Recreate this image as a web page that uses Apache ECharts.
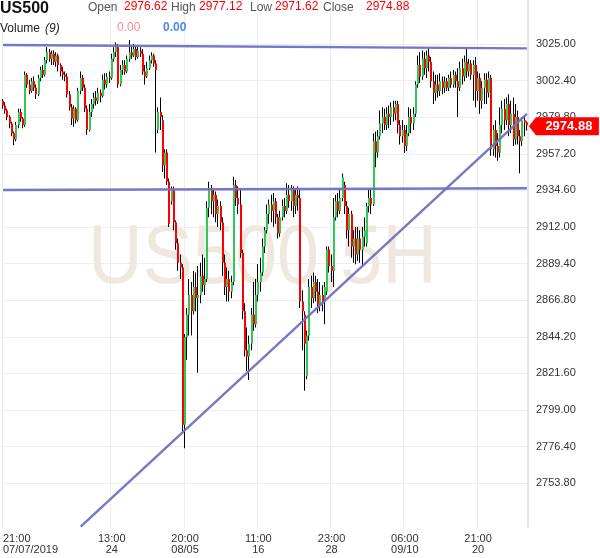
<!DOCTYPE html>
<html><head><meta charset="utf-8">
<script src="https://cdn.jsdelivr.net/npm/echarts@6/dist/echarts.min.js"></script>
<style>html,body{margin:0;padding:0;background:#fff}#c{width:600px;height:558px}</style>
</head><body><div id="c"></div>
<script>
const opens = [
2990,2987,2984,2980,2976,2970,2966,2975,2983,2979,
2975,3006,3000,2996,3002,2998,2994,3004,3009,3006,
3015,3020,3016,3019,3014,3018,3012,3008,3006,3005,
2994,2986,2979,2985,2978,2996,3004,2998,2985,2972,
2983,2988,2992,2990,2995,2993,3003,3000,3005,3004,
3016,3020,3023,3000,3009,3012,3008,3016,3020,3018,
3022,3017,3021,3019,3008,3005,3010,3015,3018,3013,
2972,2983,2978,2950,2958,2940,2928,2935,2915,2902,
2890,2887,2790,2844,2858,2870,2860,2875,2868,2870,
2882,2876,2880,2924,2935,2928,2932,2920,2925,2915,
2890,2875,2880,2872,2878,2938,2930,2926,2896,2860,
2836,2832,2840,2858,2852,2870,2878,2884,2900,2910,
2920,2926,2922,2928,2918,2908,2918,2925,2922,2932,
2928,2935,2925,2932,2930,2866,2858,2820,2845,2875,
2868,2878,2872,2864,2870,2866,2872,2898,2888,2885,
2918,2928,2922,2930,2938,2925,2910,2920,2900,2905,
2895,2905,2898,2906,2902,2925,2930,2926,2965,2958,
2968,2976,2980,2975,2982,2980,2986,2982,2988,2975,
2968,2972,2962,2970,2980,2976,2982,3000,3012,3005,
3016,3010,3018,3014,3002,2995,3000,2996,3002,2998,
3002,2998,3004,3000,3006,3002,2998,3010,3005,3014,
3008,3013,3006,3012,2996,3004,2990,2998,3003,2995,
3004,2960,2972,2962,2958,2975,2985,2978,2988,2975,
2982,2966,2980,2968,2965,2978,2976.62];
const closes = [
2987,2984,2980,2976,2970,2966,2975,2983,2979,2975,
3006,3000,2996,3002,2998,2994,3004,3009,3006,3015,
3020,3016,3019,3014,3018,3012,3008,3006,3005,2994,
2986,2979,2985,2978,2996,3004,2998,2985,2972,2983,
2988,2992,2990,2995,2993,3003,3000,3005,3004,3016,
3020,3023,3000,3009,3012,3008,3016,3020,3018,3022,
3017,3021,3019,3008,3005,3010,3015,3018,3013,3009,
2983,2980,2950,2958,2940,2914,2935,2915,2902,2890,
2887,2790,2844,2858,2870,2860,2875,2868,2870,2882,
2876,2880,2924,2935,2928,2932,2920,2925,2915,2890,
2875,2880,2872,2878,2938,2930,2926,2896,2860,2836,
2832,2840,2858,2852,2870,2878,2884,2900,2910,2920,
2926,2922,2928,2918,2908,2918,2925,2922,2932,2928,
2935,2925,2932,2930,2866,2860,2840,2845,2875,2868,
2878,2872,2864,2870,2866,2875,2898,2888,2885,2918,
2928,2922,2930,2943,2925,2910,2920,2900,2905,2895,
2905,2898,2906,2910,2925,2930,2926,2965,2958,2968,
2976,2980,2975,2982,2980,2986,2982,2988,2975,2968,
2972,2962,2970,2980,2976,2982,3000,3012,3005,3016,
3010,3018,3014,3002,2995,3000,2996,3002,2998,3002,
2998,3004,3000,3006,3002,2998,3010,3005,3014,3008,
3013,3006,3012,2996,3004,2990,2998,3003,2995,3004,
2960,2972,2962,2958,2975,2985,2978,2988,2975,2982,
2966,2980,2968,2965,2978,2976.6,2974.88];
const lows = [
2985,2982,2978,2973,2968,2962.5,2965,2973,2977,2973,
2974,2998,2994,2995,2996,2991,2993,3002,3004,3005,
3013,3014,3012,3012,3011,3008,3005,3003,3002,2992,
2984,2975,2974,2976,2977,2994,2996,2983,2969,2971,
2980,2985,2987,2988,2989,2992,2997,2998,3001,3003,
3014,3017,2998,2999,3006,3006,3007,3014,3016,3017,
3015,3016,3017,3006,3000,3004,3009,3013,3011,2958,
2970,2972,2946,2942,2938,2912,2926,2910,2898,2885,
2880,2785,2775.5,2830,2845,2845,2858,2860,2822,2865,
2872,2870,2878,2918,2920,2918,2915,2912,2910,2882,
2870,2866,2866,2868,2876,2925,2920,2893,2855,2832,
2823,2817.5,2836,2848,2850,2866,2872,2882,2896,2908,
2914,2915,2912,2914,2905,2906,2916,2918,2920,2924,
2922,2918,2920,2922,2862,2836,2811,2818,2842,2862,
2865,2866,2859,2860,2860,2852,2870,2884,2878,2875,
2916,2918,2920,2928,2920,2905,2900,2893,2890,2889,
2891,2890,2888,2900,2900,2921,2920,2925,2949,2955,
2966,2970,2972,2972,2973,2975,2977,2978,2970,2963,
2964,2957.8,2959,2968,2970,2972,2980,2998,3001,3003,
3006,3004,3008,2998,2988,2990,2992,2993,2994,2995,
2996,2996,2998,2998,2998,2980,2996,3000,3002,3004,
3005,3003,2990,2986,2990,2982,2985,2988,2988,2992,
2956,2956,2955,2953,2955,2970,2972,2975,2968,2970,
2962,2963,2963,2945.3,2962,2968,2971.62];
const highs = [
2991,2989,2985,2981,2977,2971,2977,2985,2985,2980,
3008,3007,3003,3004,3005,3000,3006,3011,3012,3017,
3023,3022,3021,3021,3020,3019,3013,3011,3008,3007,
2996,2988,2987,2986,2998,3008,3006,3000,2987,2988,
2991,2995,2996,2998,2997,3006,3007,3007,3008,3019,
3023,3026,3025,3012,3015,3015,3018,3027.5,3024,3025,
3024,3024,3023,3022,3012,3014,3018,3020,3019,3015,
2986,2992,2981,2960,2960,2942,2937,2937,2916,2905,
2895,2889,2846,2862,2880,2878,2885,2884,2888,2890,
2895,2893,2928,2940,2938,2935,2934,2929,2928,2918,
2895,2887,2885,2882,2943,2941,2937,2935,2898,2865,
2850,2845,2862,2878,2880,2889,2893,2905,2912,2926,
2929,2932,2933,2930,2920,2922,2929,2930,2939,2938,
2938,2937,2936,2937,2935,2873,2860,2848,2880,2882,
2884,2882,2880,2878,2876,2878,2900,2900,2895,2930,
2932,2933,2936,2945,2940,2928,2924,2922,2910,2912,
2912,2910,2912,2918,2927,2935,2936,2970,2971,2972,
2984,2986,2985,2986,2987,2989,2990,2990,2990,2978,
2978,2975,2975,2986,2985,2986,3002,3018,3020,3021,
3020,3021,3023,3017,3008,3006,3006,3007,3005,3005,
3004,3006,3008,3009,3008,3010,3014,3016,3018,3023,
3016,3015,3015,3017,3008,3007,3002,3007,3007,3008,
3006,2975,2978,2970,2986,2990,2991,2992,2994,2990,
2992,2988,2984,2972,2980,2980,2977.12];

const tickIndex = [0, 49, 82, 115, 148, 181, 214];
const tickText = ['21:00\n07/07/2019', '13:00\n24', '20:00\n08/05', '11:00\n16', '23:00\n28', '06:00\n09/10', '21:00\n20'];
const yTicks = [2753.8, 2776.4, 2799.0, 2821.6, 2844.2, 2866.8, 2889.4, 2912.0, 2934.6, 2957.2, 2979.8, 3002.4, 3025.0];
const resistanceLine = [[0, 3024.4], [236, 3022.3]];
const supportLine = [[0, 2934.9], [236, 2936.0]];
const trendLine = [[35, 2727.0], [236, 2981.9]];
const lastPrice = 2974.88;

const FONT = '"Liberation Sans", Arial, sans-serif';
const cats = opens.map((_, i) => String(i));
const rows = opens.map((o, i) => [i, o, closes[i], lows[i], highs[i]]);
const isTick = (i) => tickIndex.indexOf(i) >= 0;

function renderItem(params, api) {
  const i = api.value(0), o = api.value(1), c = api.value(2), l = api.value(3), h = api.value(4);
  const pH = api.coord([i, h]), pL = api.coord([i, l]), pO = api.coord([i, o]), pC = api.coord([i, c]);
  const x = Math.round(pH[0]);
  const y1 = Math.min(pO[1], pC[1]), y2 = Math.max(pO[1], pC[1]);
  return {
    type: 'group',
    children: [
      { type: 'rect', shape: { x: x - 1, y: pH[1], width: 1, height: Math.max(1, pL[1] - pH[1]) }, style: { fill: '#000' } },
      { type: 'rect', shape: { x: x - 1, y: y1, width: 2, height: Math.max(1, y2 - y1) }, style: { fill: c >= o ? '#2fc859' : '#ff0000' } }
    ]
  };
}

const lineStyle = { color: '#7070c2', width: 2.4, type: 'solid', opacity: 0.95 };
const seg = (pts) => [{ coord: pts[0], lineStyle }, { coord: pts[1] }];

const chart = echarts.init(document.getElementById('c'), null, { renderer: 'canvas' });
chart.setOption({
  animation: false,
  backgroundColor: '#fff',
  grid: { left: 0, right: 72, top: 0, bottom: 31, containLabel: false },
  xAxis: {
    type: 'category', data: cats, boundaryGap: true,
    axisLine: { show: false },
    axisTick: { show: false, interval: (i) => isTick(i) },
    axisLabel: {
      interval: (i) => isTick(i),
      formatter: (v, i) => tickText[tickIndex.indexOf(Number(v))] || '',
      color: '#333', fontSize: 11, lineHeight: 11, margin: 6, fontFamily: FONT,
      alignMinLabel: 'left'
    },
    splitLine: { show: true, interval: (i) => isTick(i), lineStyle: { color: '#eeeeee' } }
  },
  yAxis: {
    type: 'value', position: 'right', min: 2726.8, max: 3052.2, scale: true,
    axisLine: { show: true, lineStyle: { color: '#e4e4e4', width: 2, type: [2, 2] } },
    axisTick: { show: false, customValues: yTicks },
    axisLabel: { customValues: yTicks, formatter: (v) => v.toFixed(2), color: '#333', fontSize: 11, margin: 8, fontFamily: FONT },
    splitLine: { show: true, lineStyle: { color: '#eeeeee' } }
  },
  graphic: [
    { type: 'text', x: 88, y: 260, scaleX: 0.9, z: 1, silent: true,
      style: { text: 'US500,5H', font: '84px ' + FONT, fill: '#efe8de', verticalAlign: 'middle' } },
    { type: 'text', x: 0, y: 9, z: 100, style: { text: 'US500', font: 'bold 16px ' + FONT, fill: '#111', verticalAlign: 'middle' } },
    { type: 'text', x: 88, y: 8, z: 100, style: { text: 'Open', font: '12px ' + FONT, fill: '#555', verticalAlign: 'middle' } },
    { type: 'text', x: 124, y: 7, z: 100, style: { text: '2976.62', font: '12px ' + FONT, fill: '#ff0000', verticalAlign: 'middle' } },
    { type: 'text', x: 171, y: 8, z: 100, style: { text: 'High', font: '12px ' + FONT, fill: '#555', verticalAlign: 'middle' } },
    { type: 'text', x: 199, y: 7, z: 100, style: { text: '2977.12', font: '12px ' + FONT, fill: '#ff0000', verticalAlign: 'middle' } },
    { type: 'text', x: 250, y: 8, z: 100, style: { text: 'Low', font: '12px ' + FONT, fill: '#555', verticalAlign: 'middle' } },
    { type: 'text', x: 275, y: 7, z: 100, style: { text: '2971.62', font: '12px ' + FONT, fill: '#ff0000', verticalAlign: 'middle' } },
    { type: 'text', x: 323, y: 8, z: 100, style: { text: 'Close', font: '12px ' + FONT, fill: '#555', verticalAlign: 'middle' } },
    { type: 'text', x: 366, y: 7, z: 100, style: { text: '2974.88', font: '12px ' + FONT, fill: '#ff0000', verticalAlign: 'middle' } },
    { type: 'text', x: 0, y: 29, z: 100, style: { text: 'Volume', font: '12px ' + FONT, fill: '#222', verticalAlign: 'middle' } },
    { type: 'text', x: 45, y: 29, z: 100, style: { text: '(9)', font: 'italic 12px ' + FONT, fill: '#222', verticalAlign: 'middle' } },
    { type: 'text', x: 117, y: 28, z: 100, style: { text: '0.00', font: '12px ' + FONT, fill: '#f29090', verticalAlign: 'middle' } },
    { type: 'text', x: 163, y: 28, z: 100, style: { text: '0.00', font: 'bold 12px ' + FONT, fill: '#4f86e3', verticalAlign: 'middle' } }
  ],
  series: [{
    type: 'custom', name: 'US500', renderItem, data: rows,
    encode: { x: 0, y: [1, 2, 3, 4] }, clip: true, z: 3,
    markLine: {
      silent: true, symbol: ['none', 'none'], label: { show: false }, animation: false,
      data: [seg(resistanceLine), seg(supportLine), seg(trendLine)]
    },
    markPoint: {
      silent: true, animation: false,
      data: [{ coord: [closes.length - 1, lastPrice], value: lastPrice }],
      symbol: 'path://M0,9L7,0L70,0L70,18L7,18Z', symbolKeepAspect: false,
      symbolSize: [70, 18], symbolOffset: [37, 1],
      itemStyle: { color: '#ff0000' },
      label: { show: true, position: 'inside', offset: [5, 0], formatter: () => lastPrice.toFixed(2),
        color: '#fff', fontWeight: 'bold', fontSize: 13, fontFamily: FONT }
    }
  }]
});
</script></body></html>
